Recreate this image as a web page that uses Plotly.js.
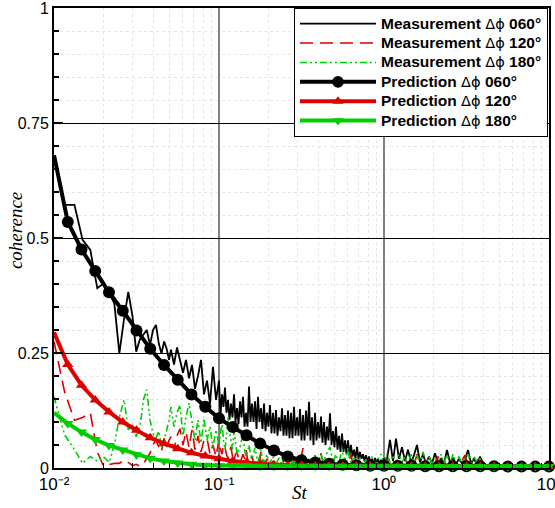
<!DOCTYPE html>
<html><head><meta charset="utf-8">
<script src="https://cdn.plot.ly/plotly-3.0.1.min.js"></script>
<style>html,body{margin:0;padding:0;background:#fff}#chart{width:555px;height:508px}</style>
</head><body><div id="chart"></div>
<script>
const measSt = [0.0100,0.0116,0.0133,0.0149,0.0166,0.0183,0.0199,0.0216,0.0232,0.0249,0.0266,0.0282,0.0299,0.0315,0.0332,0.0349,0.0365,0.0382,0.0398,0.0415,0.0432,0.0448,0.0465,0.0481,0.0498,
0.05118,0.05337,0.05565,0.05803,0.06051,0.06310,0.06579,0.06861,0.07154,0.07460,0.07779,0.08111,0.08458,0.08820,0.09197,0.09590,
0.1000,0.1021,0.1043,0.1065,0.1087,0.1110,0.1134,0.1158,0.1182,0.1207,0.1233,0.1259,0.1286,0.1313,0.1341,0.1369,0.1398,0.1428,0.1458,0.1489,
0.1520,0.1552,0.1585,0.1619,0.1653,0.1688,0.1723,0.1759,0.1797,0.1835,0.1874,0.1914,0.1954,0.1995,0.2037,0.2080,0.2125,0.2170,0.2215,0.2262,
0.2310,0.2359,0.2409,0.2460,0.2512,0.2565,0.2619,0.2674,0.2731,0.2789,0.2848,0.2908,0.2970,0.3033,0.3097,0.3162,0.3229,0.3297,0.3367,0.3438,
0.3511,0.3585,0.3661,0.3738,0.3818,0.3899,0.3981,0.4065,0.4151,0.4239,0.4329,0.4421,0.4514,0.4610,0.4707,0.4807,0.4908,0.5012,0.5118,0.5226,
0.5337,0.5450,0.5565,0.5683,0.5803,0.5926,0.6051,0.6179,0.6310,0.6443,0.6579,0.6718,0.6861,0.7006,0.7154,0.7305,0.7460,0.7618,0.7779,0.7944,
0.8111,0.8283,0.8458,0.8637,0.8820,0.9007,0.9197,0.9392,0.9590,0.9793,1.000,
1.043,1.087,1.134,1.182,1.233,1.286,1.341,1.398,1.458,1.520,1.585,1.653,1.723,1.797,1.874,1.954,2.037,2.125,2.215,2.310,2.409,2.512,2.619,2.731,2.848,2.970,3.097,3.229,3.367,3.511,3.661,3.818,3.981,4.151];

const measCoh060 = [0.68,0.572,0.572,0.496,0.474,0.391,0.401,0.38,0.358,0.249,0.325,0.383,0.33,0.253,0.28,0.29,0.30,0.267,0.30,0.311,0.27,0.249,0.275,0.26,0.235,
0.257,0.225,0.262,0.232,0.207,0.235,0.195,0.224,0.172,0.2,0.235,0.16,0.19,0.14,0.22,0.148,
0.19,0.115,0.16,0.133,0.175,0.12,0.148,0.105,0.14,0.11,
0.16,0.1,0.13,0.095,0.145,0.11,0.155,0.09,0.12,0.09,
0.177,0.1,0.14,0.1,0.145,0.085,0.155,0.1,0.13,0.085,
0.14,0.08,0.12,0.09,0.137,0.075,0.12,0.075,0.126,0.07,
0.11,0.08,0.13,0.07,0.115,0.07,0.125,0.065,0.12,0.065,
0.133,0.07,0.11,0.07,0.128,0.06,0.115,0.06,0.125,0.07,
0.144,0.06,0.11,0.05,0.12,0.06,0.1,0.065,0.112,0.055,
0.1,0.05,0.09,0.06,0.119,0.05,0.08,0.045,0.09,0.04,
0.07,0.035,0.075,0.035,0.06,0.03,0.06,0.028,0.05,0.025,
0.04,0.02,0.046,0.02,0.035,0.02,0.03,0.015,0.028,0.012,
0.025,0.012,0.02,0.01,0.022,0.01,0.02,0.008,0.018,0.01,0.02,
0.02,0.061,0.015,0.064,0.02,0.045,0.015,0.04,0.012,0.028,0.05,0.012,0.03,0.01,0.025,0.01,0.032,0.012,0.02,0.01,0.039,0.012,0.022,0.008,0.02,0.01,0.018,0.039,0.01,0.02,0.008,0.025,0.01,0.008];

const measCoh120 = [0.275,0.165,0.104,0.11,0.12,0.035,0.005,0.008,0.01,0.01,0.017,0.012,0.005,0.008,0.004,0.01,0.02,0.032,0.05,0.061,0.045,0.035,0.065,0.046,0.06,
0.068,0.04,0.07,0.085,0.05,0.079,0.045,0.083,0.04,0.07,0.035,0.06,0.065,0.03,0.05,0.025,
0.061,0.04,0.03,0.05,0.045,0.03,0.02,0.035,0.046,0.025,
0.015,0.03,0.035,0.02,0.012,0.02,0.03,0.02,0.039,0.02,
0.01,0.018,0.025,0.012,0.008,0.015,0.02,0.012,0.035,0.015,
0.008,0.012,0.02,0.01,0.006,0.01,0.015,0.008,0.005,0.008,
0.012,0.018,0.025,0.01,0.006,0.01,0.015,0.008,0.005,0.012,
0.02,0.01,0.008,0.01,0.015,0.028,0.043,0.02,0.01,0.015,
0.02,0.01,0.005,0.01,0.015,0.01,0.008,0.02,0.032,0.015,
0.01,0.012,0.015,0.008,0.005,0.012,0.02,0.01,0.008,0.01,
0.012,0.008,0.005,0.01,0.015,0.01,0.008,0.018,0.03,0.012,
0.008,0.01,0.012,0.008,0.005,0.008,0.01,0.006,0.004,0.008,
0.012,0.008,0.005,0.008,0.01,0.006,0.004,0.008,0.012,0.008,0.005,
0.02,0.006,0.015,0.005,0.012,0.005,0.02,0.006,0.015,0.005,0.03,0.006,0.012,0.005,0.015,0.005,0.012,0.025,0.006,0.015,0.005,0.02,0.006,0.012,0.005,0.015,0.028,0.006,0.012,0.005,0.015,0.025,0.005,0.004];

const measCoh180 = [0.155,0.072,0.04,0.01,0.025,0.015,0.025,0.012,0.05,0.11,0.148,0.083,0.095,0.068,0.09,0.15,0.17,0.104,0.075,0.065,0.08,0.046,0.06,0.085,0.104,
0.133,0.09,0.12,0.137,0.07,0.111,0.141,0.1,0.06,0.104,0.054,0.108,0.06,0.09,0.045,0.083,
0.05,0.075,0.1,0.06,0.04,0.07,0.111,0.08,0.06,0.04,
0.08,0.05,0.03,0.04,0.046,0.06,0.07,0.04,0.025,0.035,
0.05,0.03,0.02,0.03,0.045,0.025,0.015,0.025,0.039,0.02,
0.012,0.02,0.03,0.015,0.01,0.018,0.025,0.012,0.008,0.015,
0.022,0.012,0.01,0.02,0.03,0.015,0.008,0.012,0.02,0.01,
0.012,0.02,0.025,0.012,0.008,0.02,0.03,0.015,0.01,0.012,
0.02,0.01,0.012,0.02,0.028,0.015,0.01,0.02,0.03,0.02,
0.015,0.025,0.035,0.04,0.046,0.025,0.012,0.02,0.03,0.015,
0.01,0.025,0.04,0.025,0.015,0.03,0.043,0.02,0.012,0.018,
0.025,0.015,0.01,0.015,0.02,0.012,0.008,0.012,0.018,0.012,
0.01,0.018,0.025,0.015,0.008,0.012,0.02,0.025,0.03,0.02,0.01,
0.032,0.012,0.028,0.01,0.03,0.012,0.025,0.01,0.03,0.012,0.028,0.01,0.035,0.012,0.025,0.008,0.022,0.01,0.03,0.012,0.028,0.01,0.03,0.012,0.025,0.008,0.02,0.03,0.01,0.025,0.012,0.02,0.01,0.008];

const predSt = [0.01,0.01212,0.01468,0.01778,0.02154,0.02610,0.03162,0.03831,0.04642,0.05623,0.06813,0.08254,0.1,0.1212,0.1468,0.1778,0.2154,0.2610,0.3162,0.3831,0.4642,0.5623,0.6813,0.8254,1.0,1.212,1.468,1.778,2.154,2.610,3.162,3.831,4.642,5.623,6.813,8.254,10.0];
const predCoh060 = [0.680,0.535,0.475,0.428,0.382,0.342,0.299,0.259,0.224,0.192,0.160,0.133,0.108,0.089,0.071,0.053,0.038,0.025,0.017,0.012,0.009,0.007,0.006,0.005,0.005,0.005,0.005,0.004,0.004,0.004,0.004,0.004,0.004,0.003,0.003,0.003,0.003];
const predCoh120 = [0.295,0.225,0.180,0.148,0.122,0.100,0.082,0.066,0.053,0.042,0.033,0.026,0.020,0.015,0.012,0.009,0.007,0.006,0.006,0.005,0.005,0.005,0.005,0.005,0.004,0.004,0.004,0.004,0.004,0.004,0.004,0.004,0.004,0.003,0.003,0.003,0.003];
const predCoh180 = [0.120,0.097,0.078,0.062,0.049,0.039,0.029,0.021,0.015,0.011,0.008,0.006,0.005,0.005,0.005,0.004,0.004,0.004,0.004,0.004,0.004,0.004,0.004,0.004,0.004,0.004,0.003,0.003,0.003,0.003,0.003,0.003,0.003,0.003,0.003,0.003,0.003];

const xTickVals = [0.01, 0.1, 1, 10];
const xTickText = ['10⁻²', '10⁻¹', '10⁰', '10¹'];
const yTickVals = [0, 0.25, 0.5, 0.75, 1];
const yTickText = ['0', '0.25', '0.5', '0.75', '1'];
const seriesLabels = ['060', '120', '180'];

const RED = 'rgb(220,0,0)';
const GREEN = 'rgb(0,205,0)';
const dphi = '<span style="font-family:\'DejaVu Sans\';font-weight:normal;font-size:14.5px">Δϕ</span>';
const lbl = (kind, s) => '<span style="font-size:15.5px">' + kind + ' ' + dphi + ' ' + s + '°</span>';
const msz = (n) => predSt.map((_, i) => i === 0 ? 0 : n);

const traces = [
  {x: measSt, y: measCoh060, mode: 'lines', name: lbl('Measurement', seriesLabels[0]), line: {color: 'black', width: 1.8}},
  {x: measSt, y: measCoh120, mode: 'lines', name: lbl('Measurement', seriesLabels[1]), line: {color: RED, width: 1.6, dash: '13px,7px'}},
  {x: measSt, y: measCoh180, mode: 'lines', name: lbl('Measurement', seriesLabels[2]), line: {color: GREEN, width: 1.6, dash: '7px,3px,2px,3px,2px,3px'}},
  {x: predSt, y: predCoh060, mode: 'lines+markers', name: lbl('Prediction', seriesLabels[0]), line: {color: 'black', width: 4}, marker: {symbol: 'circle', size: msz(12), color: 'black', opacity: 1, line: {width: 0}}, cliponaxis: false},
  {x: predSt, y: predCoh120, mode: 'lines+markers', name: lbl('Prediction', seriesLabels[1]), line: {color: RED, width: 4}, marker: {symbol: 'triangle-up', size: msz(10), color: RED, opacity: 1, line: {width: 0}}, cliponaxis: false},
  {x: predSt, y: predCoh180, mode: 'lines+markers', name: lbl('Prediction', seriesLabels[2]), line: {color: GREEN, width: 4}, marker: {symbol: 'triangle-down', size: msz(10), color: GREEN, opacity: 1, line: {width: 0}}, cliponaxis: false}
];

const layout = {
  width: 555, height: 508,
  margin: {l: 54, r: 6, t: 8, b: 40},
  paper_bgcolor: 'white', plot_bgcolor: 'white',
  showlegend: true,
  font: {family: 'Liberation Sans, Arial, sans-serif', color: 'black'},
  xaxis: {
    type: 'log', range: [-2, 1],
    tickmode: 'array', tickvals: xTickVals, ticktext: xTickText,
    ticks: 'inside', ticklen: 9, tickwidth: 1.5, tickcolor: 'black',
    tickfont: {size: 17}, ticklabeloverflow: 'allow',
    showline: true, linewidth: 2, linecolor: 'black', mirror: true,
    showgrid: true, gridcolor: '#808080', gridwidth: 1.5,
    zeroline: false,
    minor: {dtick: 'D1', ticks: 'inside', ticklen: 5, tickcolor: 'black', showgrid: true, gridcolor: '#e4e4e4', griddash: 'dot', gridwidth: 1}
  },
  yaxis: {
    range: [0, 1],
    tickmode: 'array', tickvals: yTickVals, ticktext: yTickText,
    ticks: 'inside', ticklen: 9, tickwidth: 1.5, tickcolor: 'black',
    tickfont: {size: 16}, ticklabeloverflow: 'allow',
    showline: true, linewidth: 2, linecolor: 'black', mirror: true,
    showgrid: true, gridcolor: 'black', gridwidth: 1,
    zeroline: false,
    minor: {dtick: 0.05, ticks: 'inside', ticklen: 5, tickcolor: 'black', showgrid: true, gridcolor: '#e4e4e4', griddash: 'dot', gridwidth: 1}
  },
  legend: {
    x: 0.998, xanchor: 'right', y: 1, yanchor: 'top',
    bgcolor: 'white', bordercolor: 'black', borderwidth: 1,
    font: {size: 12.6, weight: 'bold', family: 'Liberation Sans, Arial, sans-serif'},
    itemwidth: 76, tracegroupgap: 0
  },
  annotations: [
    {text: 'coherence', xref: 'paper', yref: 'paper', x: -0.079, y: 0.517, xanchor: 'center', yanchor: 'middle', textangle: -90, showarrow: false,
     font: {family: 'Liberation Serif, Times New Roman, serif', size: 19, style: 'italic'}},
    {text: 'St', xref: 'paper', yref: 'paper', x: 0.497, y: -0.054, xanchor: 'center', yanchor: 'middle', showarrow: false,
     font: {family: 'Liberation Serif, Times New Roman, serif', size: 19, style: 'italic'}}
  ]
};

Plotly.newPlot('chart', traces, layout, {displayModeBar: false, staticPlot: true});
</script></body></html>
